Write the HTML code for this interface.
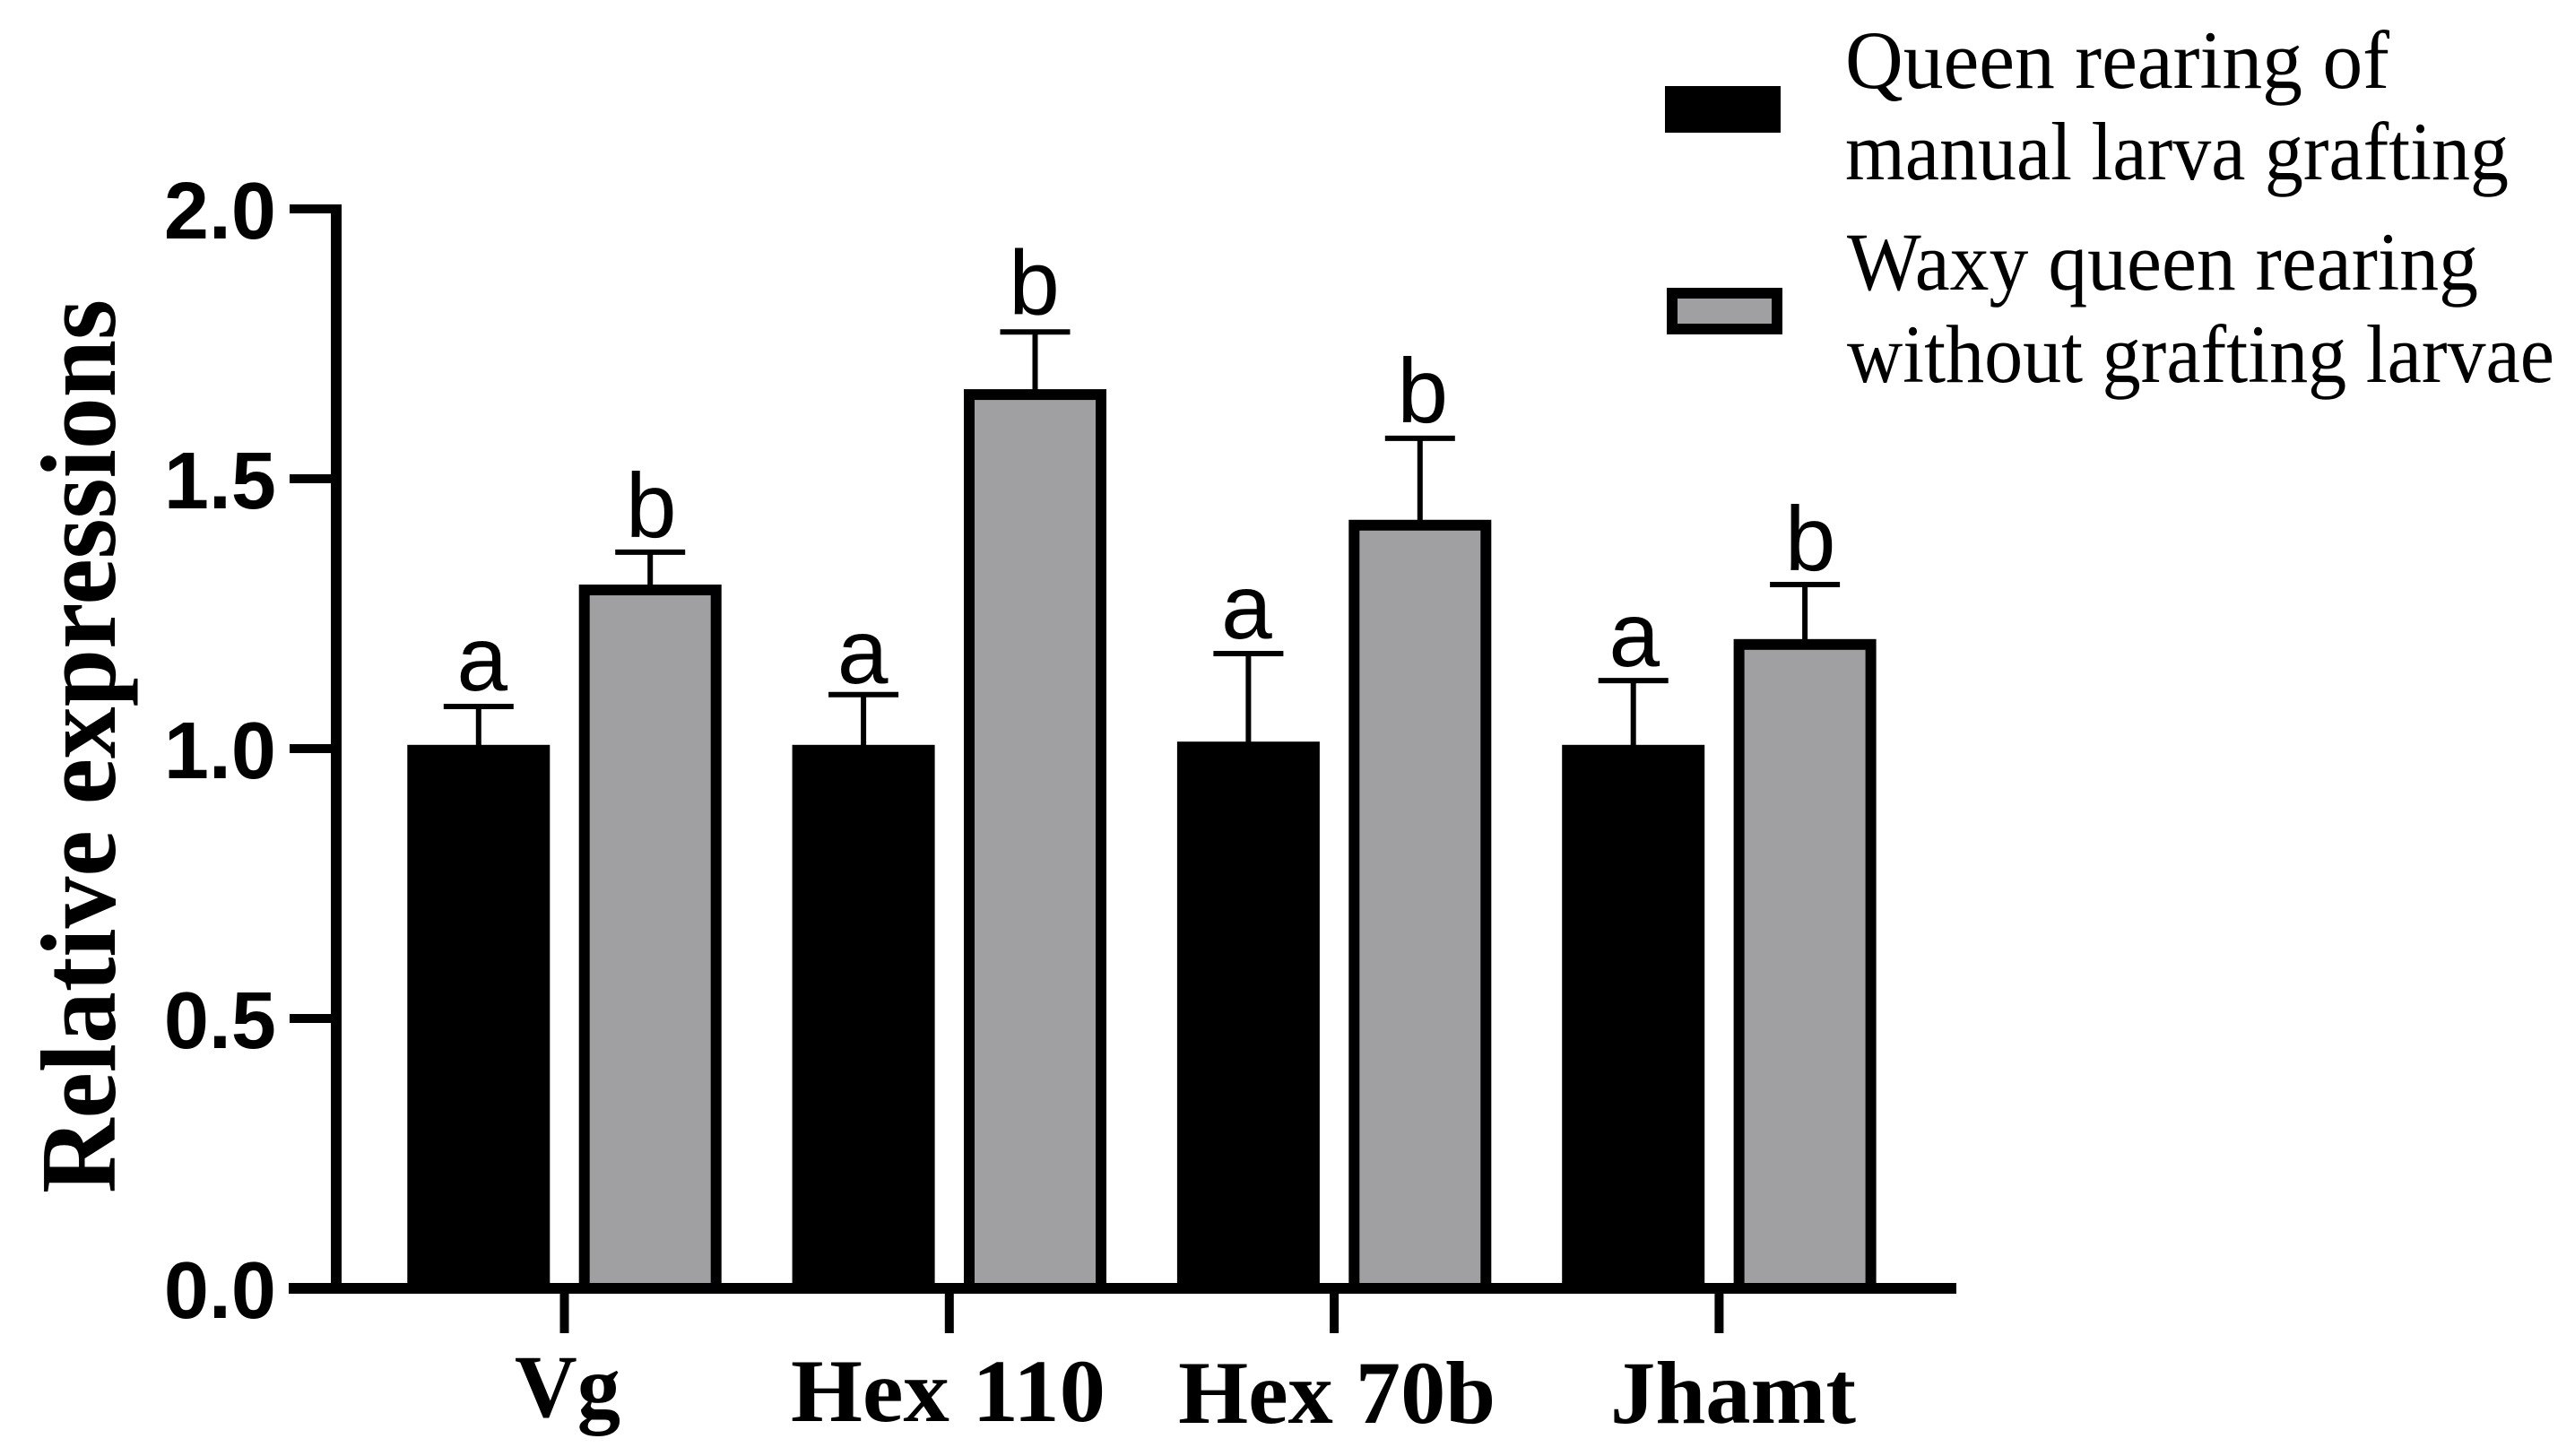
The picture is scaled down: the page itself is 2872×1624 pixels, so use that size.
<!DOCTYPE html>
<html>
<head>
<meta charset="utf-8">
<title>Relative expressions chart</title>
<style>
html,body{margin:0;padding:0;background:#fff;}
body{width:2872px;height:1624px;overflow:hidden;}
svg{display:block;}
.serif{font-family:"Liberation Serif",serif;fill:#000;}
.sans{font-family:"Liberation Sans",sans-serif;fill:#000;}
</style>
</head>
<body>
<svg id="chart" xmlns="http://www.w3.org/2000/svg" width="2872" height="1624" viewBox="0 0 2872 1624">
  <rect x="0" y="0" width="2872" height="1624" fill="#fff"/>
  <text class="serif" font-weight="700" font-size="120" textLength="997" lengthAdjust="spacingAndGlyphs" transform="translate(128,1331) rotate(-90)">Relative expressions</text>
  <g id="marks"></g>
  <g id="axes"></g>
  <g>
    <rect x="1857" y="96" width="129" height="52" fill="#000"/>
    <rect x="1865" y="327" width="117" height="40" fill="#a0a0a2" stroke="#000" stroke-width="12"/>
    <text class="serif" font-size="92" x="2058" y="98" textLength="607" lengthAdjust="spacingAndGlyphs">Queen rearing of</text>
    <text class="serif" font-size="92" x="2058" y="200" textLength="740" lengthAdjust="spacingAndGlyphs">manual larva grafting</text>
    <text class="serif" font-size="92" x="2060" y="323" textLength="704" lengthAdjust="spacingAndGlyphs">Waxy queen rearing</text>
    <text class="serif" font-size="92" x="2060" y="426" textLength="789" lengthAdjust="spacingAndGlyphs">without grafting larvae</text>
  </g>
</svg>
<script>
const categories = ["Vg", "Hex 110", "Hex 70b", "Jhamt"];
const manualValues = [0.997, 0.997, 1.003, 0.997];
const manualErrorTops = [1.078, 1.100, 1.176, 1.126];
const manualLetters = ["a", "a", "a", "a"];
const waxyValues = [1.294, 1.656, 1.414, 1.193];
const waxyErrorTops = [1.364, 1.772, 1.575, 1.304];
const waxyLetters = ["b", "b", "b", "b"];
const yTickValues = [0, 0.5, 1, 1.5, 2];
const yTickLabels = ["0.0", "0.5", "1.0", "1.5", "2.0"];

const NS = "http://www.w3.org/2000/svg";
const marks = document.getElementById("marks");
const axes = document.getElementById("axes");
const Y0 = 1437, PX_PER_UNIT = 602;
const GROUP0 = 629.5, GROUP_STEP = 429.3, BAR_OFFSET = 95.7, BAR_W = 147, STROKE = 12, CAP_W = 78;

function yScale(v) { return Y0 - v * PX_PER_UNIT; }
function xScale(i) { return GROUP0 + i * GROUP_STEP; }
function make(tag, attrs, parent) {
  const el = document.createElementNS(NS, tag);
  for (const k in attrs) el.setAttribute(k, attrs[k]);
  parent.appendChild(el);
  return el;
}

const manualLetterShiftX = [5, 0, -1, 2];
const manualLetterGap = [18, 13, 17, 16];
const waxyLetterShiftX = [2, 0, 4, 7];
const waxyLetterGap = [17, 20, 18, 16];

function drawSeries(values, errs, letters, sign, fill, key, shiftX, gap) {
  values.forEach(function (v, i) {
    const cx = xScale(i) + sign * BAR_OFFSET;
    const top = yScale(v);
    const capY = yScale(errs[i]);
    const whisker = make("line", {x1: cx, x2: cx, y1: top, y2: capY, stroke: "#000", "stroke-width": 6}, marks);
    
    
    const cap = make("line", {x1: cx - CAP_W / 2, x2: cx + CAP_W / 2, y1: capY, y2: capY, stroke: "#000", "stroke-width": 6}, marks);
    
    
    const bar = make("rect", {x: cx - BAR_W / 2, y: top, width: BAR_W, height: Y0 - top, fill: fill, stroke: "#000", "stroke-width": STROKE}, marks);
    
    
    const letter = make("text", {x: cx - 1 + shiftX[i], y: capY - gap[i], "text-anchor": "middle", "font-size": 102, class: "sans"}, marks);
    letter.textContent = letters[i];
    
    
  });
}
drawSeries(manualValues, manualErrorTops, manualLetters, -1, "#000", "manual", manualLetterShiftX, manualLetterGap);
drawSeries(waxyValues, waxyErrorTops, waxyLetters, 1, "#a0a0a2", "waxy", waxyLetterShiftX, waxyLetterGap);

const yAxisLine = make("rect", {x: 369, y: yScale(2) - 5, width: 12, height: Y0 + 6 - (yScale(2) - 5), fill: "#000"}, axes);


const xAxisLine = make("rect", {x: 322, y: Y0 - 6, width: 1860, height: 12, fill: "#000"}, axes);



yTickValues.forEach(function (v, i) {
  const y = yScale(v);
  const tick = make("rect", {x: 323, y: y - 5, width: 50, height: 10, fill: "#000"}, axes);
  
  
  const label = make("text", {x: 308, y: y + 33, "text-anchor": "end", "font-size": 90, "font-weight": 700, class: "sans"}, axes);
  label.textContent = yTickLabels[i];
  
  
});

const xLabelNudge = [3.5, -1.3, 3, 15.6];
const xLabelBaseline = [1580, 1585, 1587, 1587];
const xLabelWidth = [118, 351, 354, 274];
categories.forEach(function (c, i) {
  const x = xScale(i);
  const tick = make("rect", {x: x - 5, y: Y0, width: 10, height: 50, fill: "#000"}, axes);
  
  
  const label = make("text", {x: x + xLabelNudge[i], y: xLabelBaseline[i], "text-anchor": "middle", "font-size": 100, "font-weight": 700, textLength: xLabelWidth[i], lengthAdjust: "spacingAndGlyphs", class: "serif"}, axes);
  label.textContent = c;
  
  
});
</script>
</body>
</html>
